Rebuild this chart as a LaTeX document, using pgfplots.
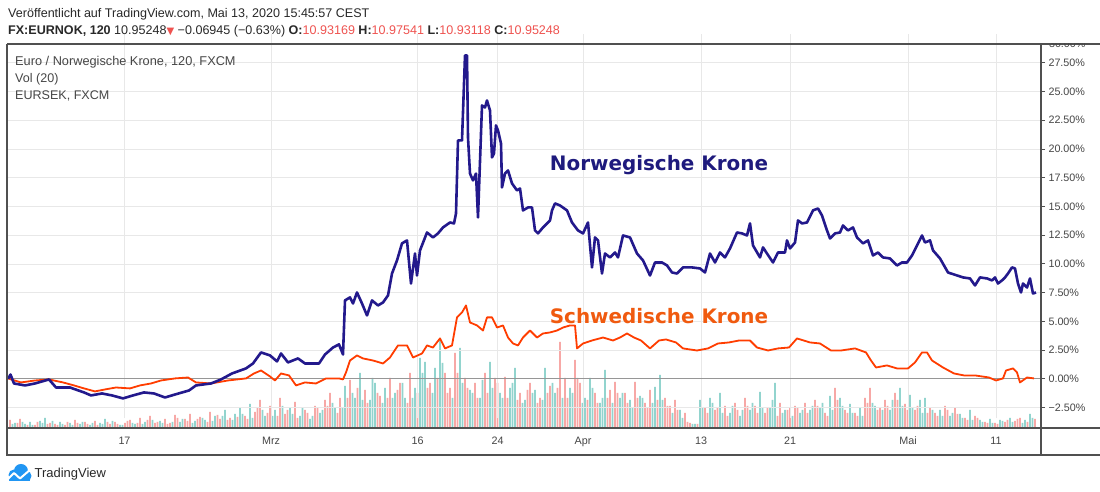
\documentclass[border=0pt]{standalone}
\usepackage{pgfplots}
\pgfplotsset{compat=1.18}
\usepackage{fontspec}
\setmainfont{Liberation Sans}
\newfontfamily\dejavu{DejaVu Sans}
\definecolor{nok}{RGB}{35,25,140}
\definecolor{sek}{RGB}{255,61,0}
\definecolor{noktxt}{RGB}{30,26,125}
\definecolor{sektxt}{RGB}{240,90,15}
\definecolor{volp}{RGB}{247,168,166}
\definecolor{volt}{RGB}{146,212,206}
\definecolor{gridc}{RGB}{232,232,232}
\definecolor{framec}{RGB}{80,80,80}
\definecolor{txt}{RGB}{70,70,70}
\definecolor{hdr}{RGB}{40,40,40}
\definecolor{redv}{RGB}{239,83,80}
\definecolor{tvblue}{RGB}{33,150,243}
\definecolor{zeroc}{RGB}{150,150,150}
\begin{document}
\begin{tikzpicture}[x=1bp,y=1bp]
\useasboundingbox (0,0) rectangle (1100,492);
\fill[white] (0,0) rectangle (1100,492);

% ---------------- volume ----------------
\begin{axis}[at={(8,64)}, anchor=south west, scale only axis,
  width=1033bp, height=384bp, xmin=8, xmax=1041, ymin=0, ymax=384, hide axis]
\addplot[ybar, bar width=1.9bp, bar shift=0pt, fill=volt, draw=none] coordinates {
(15,5)(25,4)(30,6)(40,7)(45,10)(60,6)(70,5)(80,4)(90,3)(100,5)(105,9)(120,3)(135,4)(145,6)(160,7)(180,6)(195,7)(205,8)(215,12)(225,18)(235,14)(240,20)(250,24)(265,12)(275,18)(290,20)(300,12)(310,9)(320,15)(335,20)(345,42)(355,30)(360,55)(370,28)(375,45)(385,40)(395,35)(405,30)(415,40)(420,70)(425,66)(435,60)(440,90)(460,80)(470,38)(480,30)(490,66)(500,35)(510,40)(515,60)(525,28)(535,38)(545,60)(555,35)(570,40)(585,30)(590,50)(600,25)(605,58)(620,30)(630,28)(640,32)(655,41)(660,53)(680,18)(695,4)(700,28)(710,30)(720,35)(730,15)(740,12)(750,18)(760,36)(770,20)(775,45)(785,18)(800,15)(810,18)(820,20)(830,32)(840,30)(850,24)(860,20)(875,22)(890,18)(900,40)(910,33)(920,28)(925,30)(940,18)(950,12)(960,14)(970,18)(980,8)(990,9)(1000,8)(1010,10)(1025,8)(1030,14)};
\addplot[ybar, bar width=1.9bp, bar shift=0pt, fill=volt, draw=none] coordinates {
(12.5,4)(22.5,6)(32.5,3)(42.5,5)(52.5,7)(62.5,4)(72.5,3)(82.5,6)(92.5,5)(102.5,4)(112.5,7)(122.5,3)(132.5,5)(142.5,4)(152.5,8)(162.5,5)(172.5,6)(182.5,9)(192.5,5)(202.5,10)(212.5,7)(222.5,12)(232.5,8)(242.5,14)(252.5,10)(262.5,18)(272.5,12)(282.5,22)(292.5,14)(302.5,20)(312.5,12)(322.5,18)(332.5,25)(342.5,20)(352.5,35)(362.5,28)(372.5,50)(382.5,25)(392.5,30)(402.5,45)(412.5,30)(422.5,55)(432.5,35)(442.5,65)(452.5,30)(462.5,45)(472.5,35)(482.5,48)(492.5,40)(502.5,30)(512.5,45)(522.5,25)(532.5,35)(542.5,28)(552.5,45)(562.5,30)(572.5,35)(582.5,25)(592.5,40)(602.5,30)(612.5,25)(622.5,35)(632.5,20)(642.5,30)(652.5,25)(662.5,28)(672.5,15)(682.5,10)(692.5,4)(702.5,20)(712.5,25)(722.5,15)(732.5,22)(742.5,18)(752.5,25)(762.5,20)(772.5,28)(782.5,15)(792.5,12)(802.5,18)(812.5,22)(822.5,25)(832.5,18)(842.5,22)(852.5,15)(862.5,12)(872.5,25)(882.5,18)(892.5,28)(902.5,22)(912.5,20)(922.5,15)(932.5,18)(942.5,12)(952.5,15)(962.5,10)(972.5,8)(982.5,6)(992.5,5)(1002.5,7)(1012.5,6)(1022.5,5)(1032.5,10)};
\addplot[ybar, bar width=1.9bp, bar shift=0pt, fill=volp, draw=none] coordinates {
(10,8)(20,9)(35,3)(50,5)(55,4)(65,3)(75,8)(85,6)(95,7)(110,4)(115,6)(125,5)(130,8)(140,10)(150,12)(155,5)(165,9)(170,5)(175,13)(185,9)(190,14)(200,11)(210,16)(220,9)(230,10)(245,12)(255,16)(260,28)(270,22)(280,30)(285,14)(295,26)(305,18)(315,22)(325,28)(330,35)(340,30)(350,48)(365,38)(380,32)(390,50)(400,45)(410,55)(430,45)(445,55)(450,40)(455,75)(465,50)(475,45)(485,55)(495,50)(505,51)(520,35)(530,45)(540,30)(550,42)(560,86)(565,50)(575,68)(580,45)(595,35)(610,38)(615,46)(625,35)(635,46)(645,25)(650,38)(665,30)(670,22)(675,28)(685,15)(690,5)(705,20)(715,18)(725,22)(735,25)(745,30)(755,22)(765,15)(780,25)(790,20)(795,22)(805,25)(815,28)(825,15)(835,40)(845,18)(855,15)(865,30)(870,40)(880,20)(885,28)(895,35)(905,24)(915,18)(930,20)(935,15)(945,22)(955,20)(965,10)(975,12)(985,6)(995,5)(1005,6)(1015,7)(1020,10)(1035,9)};
\addplot[ybar, bar width=1.9bp, bar shift=0pt, fill=volp, draw=none] coordinates {
(17.5,5)(27.5,3)(37.5,6)(47.5,4)(57.5,3)(67.5,6)(77.5,5)(87.5,4)(97.5,3)(107.5,6)(117.5,4)(127.5,7)(137.5,5)(147.5,8)(157.5,6)(167.5,4)(177.5,10)(187.5,7)(197.5,9)(207.5,6)(217.5,13)(227.5,8)(237.5,11)(247.5,9)(257.5,20)(267.5,15)(277.5,12)(287.5,18)(297.5,10)(307.5,15)(317.5,20)(327.5,22)(337.5,15)(347.5,30)(357.5,40)(367.5,25)(377.5,35)(387.5,30)(397.5,38)(407.5,25)(417.5,35)(427.5,40)(437.5,50)(447.5,35)(457.5,55)(467.5,40)(477.5,30)(487.5,35)(497.5,45)(507.5,30)(517.5,28)(527.5,38)(537.5,25)(547.5,35)(557.5,40)(567.5,30)(577.5,50)(587.5,28)(597.5,25)(607.5,30)(617.5,35)(627.5,25)(637.5,30)(647.5,20)(657.5,28)(667.5,22)(677.5,18)(687.5,6)(697.5,4)(707.5,15)(717.5,20)(727.5,12)(737.5,18)(747.5,22)(757.5,15)(767.5,20)(777.5,12)(787.5,18)(797.5,20)(807.5,15)(817.5,22)(827.5,12)(837.5,28)(847.5,15)(857.5,12)(867.5,25)(877.5,18)(887.5,22)(897.5,28)(907.5,18)(917.5,22)(927.5,15)(937.5,12)(947.5,18)(957.5,14)(967.5,8)(977.5,10)(987.5,5)(997.5,4)(1007.5,8)(1017.5,9)(1027.5,6)};
\end{axis}

% ---------------- price lines ----------------
\begin{axis}[at={(8,64)}, anchor=south west, scale only axis,
  width=1033bp, height=384bp, xmin=8, xmax=1041, ymin=-3.455, ymax=29.965,
  axis line style={draw=none},
  xtick={124.5,271,417.5,497.5,583,701,790,908,996},
  xticklabels={17,Mrz,16,24,Apr,13,21,Mai,11},
  ytick={-2.5,0,2.5,5,7.5,10,12.5,15,17.5,20,22.5,25,27.5},
  yticklabels={−2.50\%,0.00\%,2.50\%,5.00\%,7.50\%,10.00\%,12.50\%,15.00\%,17.50\%,20.00\%,22.50\%,25.00\%,27.50\%},
  yticklabel pos=right, ytick pos=right, xtick pos=bottom,
  grid=major, major grid style={gridc, line width=0.7bp},
  tick align=outside, major tick length=4bp,
  xtick style={draw=none}, ytick style={framec, line width=0.8bp},
  ticklabel style={font=\fontsize{10.8}{12}\selectfont, text=txt},
  yticklabel style={anchor=west},
  xticklabel style={yshift=-11bp},
]
\addplot[zeroc, line width=1bp, forget plot] coordinates {(8,0)(1041,0)};
\addplot[sek, line width=1.8bp, line join=round] coordinates {
(8,0.03)(21,-0.32)(35,-0.15)(49,-0.06)(63,-0.32)(74,-0.58)(84,-0.84)(95,-1.10)(105,-0.93)(116,-0.76)(130,-0.84)(140,-0.58)(151,-0.41)(161,-0.15)(175,0.03)(188,0.11)(196,-0.32)(211,-0.41)(228,-0.15)(246,0.03)(254,0.46)(261,0.72)(270,0.20)(275,-0.15)(281,0.46)(289,0.29)(296,-0.58)(305,-0.32)(316,-0.41)(326,0.03)(339,0.03)(343,-0.06)(346,0.55)(350,1.59)(357,2.03)(363,1.77)(373,1.59)(383,1.33)(390,1.85)(398,2.90)(407,2.90)(413,1.85)(422,2.20)(427,2.90)(433,2.72)(440,3.51)(445,2.64)(452,2.90)(457,5.34)(462,5.77)(466,6.38)(470,4.90)(477,4.64)(483,4.20)(487,5.34)(492,5.34)(497,4.46)(503,4.64)(508,3.59)(513,3.07)(518,2.90)(523,3.59)(530,4.20)(537,3.59)(543,3.94)(550,4.03)(557,4.20)(563,4.46)(570,4.64)(575,4.64)(577,2.64)(583,3.07)(592,3.33)(603,3.59)(613,3.33)(620,3.59)(627,3.94)(634,3.59)(641,3.33)(650,2.64)(659,3.33)(666,3.42)(676,3.16)(683,2.64)(697,2.46)(708,2.64)(718,3.07)(729,3.16)(739,3.33)(750,3.33)(757,2.72)(768,2.46)(778,2.64)(789,2.72)(797,3.51)(810,3.16)(820,3.07)(831,2.46)(841,2.46)(855,2.64)(866,2.29)(871,1.59)(876,0.98)(887,1.16)(897,0.90)(908,0.90)(915,1.42)(922,2.29)(927,2.29)(932,1.59)(943,0.98)(954,0.46)(964,0.29)(975,0.29)(989,0.11)(996,-0.15)(1003,0.03)(1006,0.72)(1013,0.90)(1017,0.55)(1020,-0.32)(1027,0.11)(1034,0.03)};
\addplot[nok, line width=2.6bp, line join=round] coordinates {
(8,0.0)(10.5,0.37)(14,-0.41)(25,-0.58)(35,-0.41)(49,-0.06)(56,-0.76)(70,-0.76)(84,-1.19)(91,-1.45)(102,-1.28)(112,-1.45)(123,-1.71)(133,-1.45)(144,-1.19)(154,-1.28)(165,-1.63)(175,-1.37)(189,-1.02)(196,-0.58)(211,-0.41)(221,-0.06)(232,0.46)(246,0.90)(253,1.33)(261,2.29)(270,2.03)(277,1.51)(281,2.20)(288,1.42)(298,1.77)(305,1.33)(319,1.33)(325,2.11)(333,2.72)(339,2.99)(343,2.11)(345,6.82)(350,7.08)(353,6.55)(357,7.51)(362,6.55)(367,5.51)(372,6.82)(378,6.38)(383,6.64)(388,7.25)(392,9.16)(397,10.30)(402,11.78)(407,12.04)(411,8.29)(415,10.90)(417,8.99)(420,11.17)(427,12.73)(433,12.30)(438,12.65)(443,13.17)(450,13.60)(454,13.52)(456,14.39)(458,20.74)(462,20.74)(465,28.14)(467,28.14)(468,20.99)(470,17.86)(473,17.26)(476,17.86)(478,14.04)(482,23.79)(485,23.61)(487,24.22)(490,23.35)(492,19.26)(494,19.61)(496,22.05)(498,21.61)(501,20.48)(502,16.65)(505,17.86)(508,18.13)(512,17.00)(517,16.39)(520,16.56)(523,14.65)(528,14.91)(532,14.91)(535,12.91)(538,12.65)(543,13.17)(550,13.78)(552,14.65)(555,15.26)(560,15.08)(567,14.65)(572,13.60)(578,12.91)(583,12.65)(588,13.60)(592,9.69)(595,12.30)(598,12.04)(602,9.16)(605,10.90)(610,10.56)(615,10.99)(618,10.56)(623,12.47)(630,12.30)(637,10.90)(643,10.30)(650,8.99)(655,10.12)(662,10.12)(667,9.86)(672,9.25)(677,9.16)(683,9.69)(692,9.69)(700,9.60)(705,9.25)(710,10.90)(715,10.12)(720,10.99)(725,10.56)(730,11.34)(737,12.73)(742,12.65)(747,12.47)(750,13.52)(753,11.60)(760,10.56)(763,11.43)(767,10.90)(773,10.12)(778,10.99)(785,10.99)(787,12.04)(790,11.34)(795,11.86)(798,13.78)(802,13.52)(807,13.60)(813,14.65)(818,14.82)(822,14.21)(827,12.91)(830,12.21)(835,12.65)(840,12.73)(843,13.34)(848,12.91)(853,13.17)(857,12.30)(863,11.78)(868,12.04)(873,10.73)(878,10.99)(883,10.56)(890,10.47)(897,9.86)(902,10.12)(907,10.12)(912,10.73)(917,11.60)(922,12.47)(925,11.86)(930,12.04)(933,11.17)(940,10.47)(948,9.25)(957,8.99)(963,8.82)(970,8.73)(975,8.12)(980,8.82)(987,8.73)(992,8.56)(995,8.82)(998,8.29)(1002,8.56)(1005,8.82)(1008,9.16)(1012,9.69)(1015,9.60)(1018,8.29)(1021,7.51)(1023,8.29)(1027,7.94)(1030,8.73)(1033,7.42)(1036,7.51)};
\end{axis}

% ---------------- frame ----------------
\draw[framec, line width=1.2bp] (7,448) -- (1100,448);
\draw[framec, line width=1.2bp] (7,448) -- (7,37) -- (1100,37);
\draw[framec, line width=1.2bp] (1041,448) -- (1041,37);
\draw[framec, line width=1.2bp] (7,64) -- (1100,64);
\begin{scope}
\clip (1042,0) rectangle (1100,448);
\node[anchor=west, text=txt, font=\fontsize{10.8}{12}\selectfont] at (1045.5,448) {30.00\%};
\end{scope}

% ---------------- texts ----------------
\node[anchor=base west, inner sep=0, text=hdr, font=\fontsize{12.6}{14}\selectfont] at (8,474.5) {Veröffentlicht auf TradingView.com, Mai 13, 2020 15:45:57 CEST};
\node[anchor=base west, inner sep=0, text=hdr, font=\fontsize{12.6}{14}\selectfont] at (8,457.5) {\textbf{FX:EURNOK, 120}\ 10.95248{\dejavu\fontsize{10}{11}\selectfont\textcolor{redv}{▼}}\ −0.06945 (−0.63\%)\ \textbf{O:}\textcolor{redv}{10.93169}\ \textbf{H:}\textcolor{redv}{10.97541}\ \textbf{L:}\textcolor{redv}{10.93118}\ \textbf{C:}\textcolor{redv}{10.95248}};

\node[anchor=base west, inner sep=0, text=txt, font=\fontsize{12.8}{14}\selectfont] at (15,426.5) {Euro / Norwegische Krone, 120, FXCM};
\node[anchor=base west, inner sep=0, text=txt, font=\fontsize{12.6}{14}\selectfont] at (15,409.5) {Vol (20)};
\node[anchor=base west, inner sep=0, text=txt, font=\fontsize{12.6}{14}\selectfont] at (15,392.5) {EURSEK, FXCM};

\node[text=noktxt, font=\dejavu\bfseries\fontsize{20}{22}\selectfont] at (659,327) {Norwegische Krone};
\node[text=sektxt, font=\dejavu\bfseries\fontsize{20}{22}\selectfont] at (659,176) {Schwedische Krone};

% ---------------- logo ----------------
\fill[tvblue] (14,17) circle (5.5);
\fill[tvblue] (21,21) circle (7);
\fill[tvblue] (26.5,16) circle (5);
\fill[tvblue] (9,10.5) rectangle (30,17);
\draw[white, line width=2bp, line join=round] (8,13) -- (14,19) -- (20,13.5) -- (31,23);
\node[anchor=base west, inner sep=0, text=hdr, font=\fontsize{13}{14}\selectfont] at (34.5,14.5) {TradingView};
\end{tikzpicture}
\end{document}
